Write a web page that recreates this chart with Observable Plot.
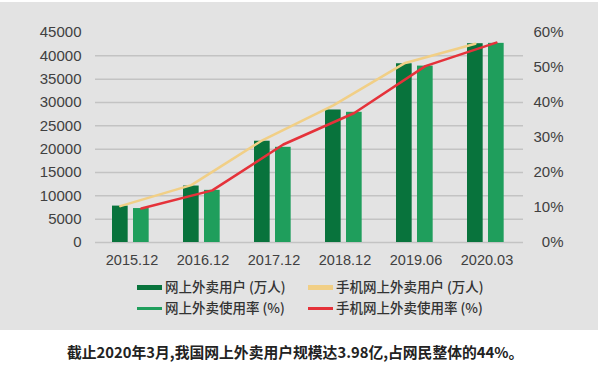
<!DOCTYPE html>
<html><head><meta charset="utf-8">
<script src="https://cdn.jsdelivr.net/npm/d3@7"></script>
<script src="https://cdn.jsdelivr.net/npm/@observablehq/plot@0.6"></script>
<style>
html,body{margin:0;padding:0;background:#fff;}
body{width:600px;height:370px;position:relative;overflow:hidden;}
#panel{position:absolute;left:0;top:2px;width:598px;height:328px;background:#e3e3e3;}
#chart{position:absolute;left:0;top:0;}
.item{position:absolute;display:flex;align-items:center;font-family:"Noto Sans CJK SC";font-size:13.5px;font-weight:500;color:#333;line-height:1;white-space:nowrap;}
.sw{width:25px;margin-right:3px;}
#caption{position:absolute;left:67px;top:342px;font-family:"Noto Sans CJK SC";font-size:14.8px;font-weight:700;color:#222;white-space:nowrap;line-height:20px;}
</style></head><body>
<div id="panel"></div>
<div id="chart"></div>
<div id="legend"></div>
<div id="caption">截止2020年3月,我国网上外卖用户规模达3.98亿,占网民整体的44%。</div>
<script>
const periods = ["2015.12","2016.12","2017.12","2018.12","2019.06","2020.03"];
const onlineUsers = [7800,12100,21700,28400,38300,42600];   // 万人 (left axis)
const mobileUsers = [7800,12300,21900,29400,38400,42600];   // 万人 (left axis)
const onlineRate = [9.7,14.9,27.2,37.2,50.4,56.9];          // % (right axis)
const mobileRate = [9.7,14.9,28.0,37.0,50.4,57.1];          // % (right axis)
const leftTicks = [0,5000,10000,15000,20000,25000,30000,35000,40000,45000];
const rightTicks = [0,10,20,30,40,50,60];
const seriesNames = ["网上外卖用户 (万人)","手机网上外卖用户 (万人)","网上外卖使用率 (%)","手机网上外卖使用率 (%)"];
const seriesColors = ["#08733c","#f1cf86","#1f9e5c","#e5323a"];

const leftMax = 45000, rightMax = 60;
const toLeft = r => r * leftMax / rightMax;

const rows = periods.map((p, i) => ({
  period: p,
  online: onlineUsers[i],
  mobile: mobileUsers[i],
  onlineRate: toLeft(onlineRate[i]),
  mobileRate: toLeft(mobileRate[i])
}));

const chart = Plot.plot({
  width: 600,
  height: 270,
  marginTop: 32,
  marginBottom: 28,
  marginLeft: 95,
  marginRight: 77,
  style: {background: "transparent", fontFamily: "Liberation Sans, Arial, sans-serif", fontSize: "15px", color: "#404040"},
  x: {type: "band", domain: periods, padding: 0},
  y: {domain: [0, leftMax]},
  marks: [
    Plot.gridY(leftTicks.filter(d => d < leftMax), {stroke: "#c3c3c3", strokeOpacity: 1, strokeWidth: 1.5}),
    Plot.barY(rows, {x: "period", y: "online", fill: seriesColors[0], insetLeft: 16, insetRight: 39.33}),
    Plot.barY(rows, {x: "period", y: "onlineRate", fill: seriesColors[2], insetLeft: 37, insetRight: 18.33}),
    Plot.line(rows, {x: "period", y: "mobile", stroke: seriesColors[1], strokeWidth: 2.5, dx: -11.67}),
    Plot.line(rows, {x: "period", y: "mobileRate", stroke: seriesColors[3], strokeWidth: 2.5, dx: 9.33}),
    Plot.axisY({ticks: leftTicks, tickSize: 0, tickPadding: 14, tickFormat: d3.format("d"), label: null}),
    Plot.axisY({anchor: "right", ticks: rightTicks.map(toLeft), tickFormat: d => Math.round(d * rightMax / leftMax) + "%", tickSize: 0, tickPadding: 0, textAnchor: "end", dx: 40, label: null}),
    Plot.axisX({tickSize: 0, tickPadding: 12, fontSize: 14.5, label: null})
  ]
});
document.getElementById("chart").appendChild(chart);

// Legend
const legend = document.getElementById("legend");
const pos = [[137, 287, 5], [308, 287, 5], [137, 308, 3], [308, 308, 3]];
seriesNames.forEach((name, i) => {
  const it = document.createElement("div");
  it.className = "item";
  it.style.left = pos[i][0] + "px";
  it.style.top = (pos[i][1] - 9) + "px";
  it.style.height = "18px";
  const sw = document.createElement("span");
  sw.className = "sw";
  sw.style.height = pos[i][2] + "px";
  sw.style.background = seriesColors[i];
  const tx = document.createElement("span");
  tx.textContent = name;
  it.appendChild(sw); it.appendChild(tx);
  legend.appendChild(it);
});
</script>
</body></html>
